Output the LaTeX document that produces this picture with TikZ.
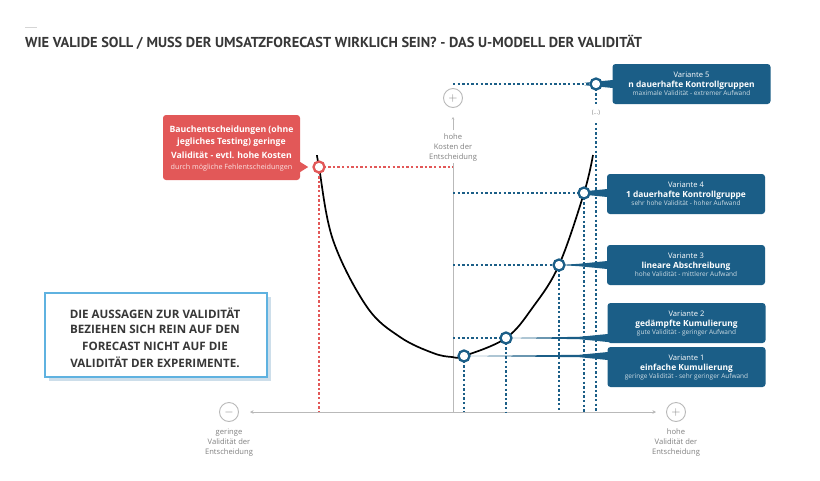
\documentclass[tikz,border=0pt]{standalone}
\usepackage{fontspec}
\setmainfont{Open Sans}
\newfontfamily\titlefont{PT Sans}
\usetikzlibrary{arrows.meta}
\definecolor{vblue}{RGB}{27,94,135}
\definecolor{vred}{RGB}{226,88,88}
\definecolor{axgray}{RGB}{185,185,185}
\definecolor{txtgray}{RGB}{55,55,55}
\definecolor{notebl}{RGB}{95,178,224}
\definecolor{noteshadow}{RGB}{205,222,234}
\begin{document}
\begin{tikzpicture}[x=1pt,y=-1pt,
  vbox/.style={fill=vblue, rounded corners=3pt, minimum width=158pt, minimum height=40pt, inner sep=0pt},
  vl1/.style={text=white, inner sep=0pt, font=\fontsize{7.6}{9}\selectfont},
  vl2/.style={text=white, inner sep=0pt, font=\bfseries\fontsize{8.4}{10}\selectfont},
  vl3/.style={text=white!78!vblue, inner sep=0pt, font=\fontsize{6.5}{8}\selectfont},
  vcirc/.style={circle, draw=vblue, line width=2.3pt, fill=white, minimum size=11pt, inner sep=0pt},
  rcirc/.style={circle, draw=vred, line width=2.3pt, fill=white, minimum size=11pt, inner sep=0pt},
  bdot/.style={draw=vblue, line width=2.4pt, dash pattern=on 2.4pt off 2.2pt},
  rdot/.style={draw=vred, line width=2.4pt, dash pattern=on 2.4pt off 2.2pt},
  axisline/.style={draw=axgray, line width=0.8pt},
  axlabel/.style={text=gray, font=\fontsize{7.6}{10}\selectfont, align=center, inner sep=0pt},
  pm/.style={circle, draw=axgray, line width=0.9pt, minimum size=19pt, inner sep=0pt, text=gray, font=\fontsize{12}{12}\selectfont},
  wedge/.style={fill=vblue},
  rline/.style={text=white, inner sep=0pt, font=\bfseries\fontsize{8.7}{10}\selectfont},
  notetext/.style={text=txtgray, inner sep=0pt, font=\bfseries\fontsize{11.6}{13}\selectfont},
]
\useasboundingbox (0,0) rectangle (820,480);
\fill[white] (0,0) rectangle (820,480);

% title
\draw[axgray!60, line width=0.8pt] (25,27) -- (37,27);
\node[anchor=west, inner sep=0pt, text=txtgray, font=\titlefont\bfseries\fontsize{14.4}{16}\selectfont] (title) at (25,42) {WIE VALIDE SOLL / MUSS DER UMSATZFORECAST WIRKLICH SEIN? - DAS U-MODELL DER VALIDITÄT};

% axes
\node[pm] (minus) at (229,412) {$-$};
\node[pm] (plusr) at (676,412) {$+$};
\node[pm] (plust) at (453,98) {$+$};
\coordinate (origin) at (453,412);
\coordinate (vtop) at (453,163);
\coordinate (axl) at (250,412);
\coordinate (axr) at (656,412);
\draw[axisline, {Stealth[length=3.5pt,width=3.5pt]}-{Stealth[length=3.5pt,width=3.5pt]}] (axl) -- (axr);
\draw[axisline] (origin) -- (vtop);
\node[axlabel] (lminus) at (229,443) {geringe\\Validität der\\Entscheidung};
\node[axlabel] (lplus) at (676,443) {hohe\\Validität der\\Entscheidung};
\node[axlabel] (ltop) at (453,148) {hohe\\Kosten der\\Entscheidung};
\coordinate (upa) at (453,130);
\coordinate (upb) at (453,117);
\draw[axisline, line width=0.6pt, -{Stealth[length=2.5pt,width=2.5pt]}] (upa) -- (upb);

% curve
\coordinate (pr) at (319,167);
\coordinate (p1) at (464,356);
\coordinate (p2) at (506,338);
\coordinate (p3) at (559,265);
\coordinate (p4) at (584,193);
\draw[black, line width=1.7pt] plot[smooth, tension=0.6] coordinates {(317,155) (319,167) (333,240) (367,307) (400,337) (433,353) (452,357) (464,356) (506,338) (533,307) (559,265) (584,193) (593,155)};

% dotted guides
\coordinate (r0) at (319,412);
\coordinate (rh) at (453,167);
\draw[rdot] (pr) -- (rh);
\draw[rdot] (pr) -- (r0);
\coordinate (b1) at (464,412);
\coordinate (b2) at (506,412);
\coordinate (b3) at (559,412);
\coordinate (b4) at (584,412);
\coordinate (b5) at (596,412);
\coordinate (h2) at (453,338);
\coordinate (h3) at (453,265);
\coordinate (h4) at (453,193);
\coordinate (h5) at (453,84);
\coordinate (p5) at (596,84);
\coordinate (gap1) at (596,104);
\coordinate (gap2) at (596,123);
\draw[bdot] (p1) -- (b1);
\draw[bdot] (p2) -- (b2);
\draw[bdot] (h2) -- (p2);
\draw[bdot] (p3) -- (b3);
\draw[bdot] (h3) -- (p3);
\draw[bdot] (p4) -- (b4);
\draw[bdot] (h4) -- (p4);
\draw[bdot] (h5) -- (p5);
\draw[bdot] (p5) -- (gap1);
\draw[bdot] (gap2) -- (b5);
\node[text=gray, font=\fontsize{6}{7}\selectfont, inner sep=0pt] (dots) at (596,113) {(...)};

% boxes
\node[vbox] (v5) at (691.5,84) {};
\node[vl1] at ([yshift=9pt]v5.center) {Variante 5};
\node[vl2] at ([yshift=-1pt]v5.center) {n dauerhafte Kontrollgruppen};
\node[vl3] at ([yshift=-9.5pt]v5.center) {maximale Validität - extremer Aufwand};
\node[vbox] (v4) at (686,194) {};
\node[vl1] at ([yshift=9pt]v4.center) {Variante 4};
\node[vl2] at ([yshift=-1pt]v4.center) {1 dauerhafte Kontrollgruppe};
\node[vl3] at ([yshift=-9.5pt]v4.center) {sehr hohe Validität - hoher Aufwand};
\node[vbox] (v3) at (686,265) {};
\node[vl1] at ([yshift=9pt]v3.center) {Variante 3};
\node[vl2] at ([yshift=-1pt]v3.center) {lineare Abschreibung};
\node[vl3] at ([yshift=-9.5pt]v3.center) {hohe Validität - mittlerer Aufwand};
\node[vbox] (v2) at (686.5,323) {};
\node[vl1] at ([yshift=9pt]v2.center) {Variante 2};
\node[vl2] at ([yshift=-1pt]v2.center) {gedämpfte Kumulierung};
\node[vl3] at ([yshift=-9.5pt]v2.center) {gute Validität - geringer Aufwand};
\node[vbox] (v1) at (686.5,367) {};
\node[vl1] at ([yshift=9pt]v1.center) {Variante 1};
\node[vl2] at ([yshift=-1pt]v1.center) {einfache Kumulierung};
\node[vl3] at ([yshift=-9.5pt]v1.center) {geringe Validität - sehr geringer Aufwand};

% wedges
\foreach \p/\v in {p1/v1,p2/v2,p3/v3,p4/v4,p5/v5}{
  \fill[wedge] (\p) -- ([xshift=-28pt,yshift=1.2pt]\v.west|-\p) -- ([xshift=0.5pt,yshift=4pt]\v.west|-\p) -- ([xshift=0.5pt,yshift=-4pt]\v.west|-\p) -- ([xshift=-28pt,yshift=-1.2pt]\v.west|-\p) -- cycle;
}

% red box
\node[fill=vred, rounded corners=3pt, minimum width=137pt, minimum height=65pt, inner sep=0pt] (rbox) at (231.5,147.5) {};
\node[rline] (r1) at (231.5,130) {Bauchentscheidungen (ohne};
\node[rline] (r2) at (231.5,142.5) {jegliches Testing) geringe};
\node[rline] (r3) at (231.5,155) {Validität - evtl. hohe Kosten};
\node[text=white!82!vred, inner sep=0pt, font=\fontsize{7.2}{8}\selectfont] (r4) at (231.5,167.5) {durch mögliche Fehlentscheidungen};
\fill[vred] ([yshift=5pt]rbox.east|-pr) -- ([yshift=-5pt]rbox.east|-pr) -- ([xshift=8pt]rbox.east|-pr) -- cycle;

% circles
\node[rcirc] (cr) at (pr) {};
\node[vcirc] (c1) at (p1) {};
\node[vcirc] (c2) at (p2) {};
\node[vcirc] (c3) at (p3) {};
\node[vcirc] (c4) at (p4) {};
\node[vcirc] (c5) at (p5) {};

% note
\fill[noteshadow] (49,297) rectangle (271,381);
\node[draw=notebl, line width=1.8pt, fill=white, minimum width=222pt, minimum height=84pt, inner sep=0pt] (note) at (156,335) {};
\node[notetext] (n1) at (155,313) {DIE AUSSAGEN ZUR VALIDITÄT};
\node[notetext] (n2) at (155,329.5) {BEZIEHEN SICH REIN AUF DEN};
\node[notetext] (n3) at (155,346) {FORECAST NICHT AUF DIE};
\node[notetext] (n4) at (155,362) {VALIDITÄT DER EXPERIMENTE.};
\end{tikzpicture}
\end{document}
